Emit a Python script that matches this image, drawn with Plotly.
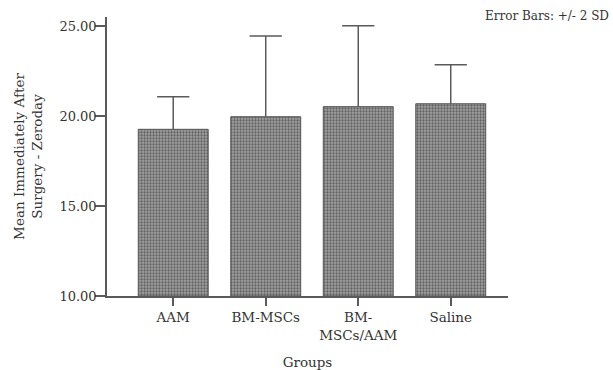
import plotly.graph_objects as go

categories = ["AAM", "BM-MSCs", "BM-<br>MSCs/AAM", "Saline"]
means = [19.26, 19.96, 20.52, 20.68]
err_plus = [1.81, 4.48, 4.50, 2.17]
y_ticks = [10, 15, 20, 25]
y_tick_labels = ["10.00", "15.00", "20.00", "25.00"]

FONT = "DejaVu Serif"
TXT = "#333333"
GREY = "#5a5a5a"

xs = list(range(len(categories)))
tops = [m + e for m, e in zip(means, err_plus)]

fig = go.Figure()
fig.add_trace(go.Bar(
    x=xs,
    y=[m - 10 for m in means],
    base=10,
    width=0.756,
    marker=dict(
        color="#8a8a8a",
        line=dict(color="#555555", width=1),
        pattern=dict(shape=".", fgcolor="#222222", bgcolor="#a0a0a0",
                     size=3, solidity=0.45, fillmode="overlay"),
    ),
    error_y=dict(type="data", array=err_plus, arrayminus=[0]*4, symmetric=False,
                 color=GREY, thickness=1.5, width=0),
    showlegend=False,
))
fig.add_trace(go.Scatter(
    x=xs, y=tops, mode="markers",
    marker=dict(symbol="line-ew", size=23, line=dict(color=GREY, width=1.5)),
    showlegend=False, hoverinfo="skip",
))

fig.update_layout(
    width=613, height=370,
    margin=dict(l=107, r=105, t=17, b=74, autoexpand=False),
    plot_bgcolor="white", paper_bgcolor="white",
    font=dict(family=FONT, size=13, color=TXT),
    xaxis=dict(
        range=[-0.716, 3.619], automargin=False,
        tickvals=xs, ticktext=categories,
        showline=True, linecolor=GREY, linewidth=1.5,
        ticks="outside", ticklen=8, tickcolor=GREY, tickwidth=1.5,
        showgrid=False, zeroline=False,
        tickfont=dict(family=FONT, size=13.5, color=TXT),
        title=dict(text="Groups", standoff=16, font=dict(family=FONT, size=13.5, color=TXT)),
    ),
    yaxis=dict(
        range=[10, 25.5], automargin=False,
        tickvals=y_ticks, ticktext=y_tick_labels,
        showline=True, linecolor=GREY, linewidth=1.5,
        ticks="outside", ticklen=10, tickcolor=GREY, tickwidth=1.5,
        ticklabelstandoff=-4,
        showgrid=False, zeroline=False,
        tickfont=dict(family=FONT, size=13, color=TXT),
        title=dict(text="Mean Immediately After<br>Surgery - Zeroday", standoff=14,
                   font=dict(family=FONT, size=13.5, color=TXT)),
    ),
    annotations=[dict(text="Error Bars: +/- 2 SD", xref="paper", yref="paper",
                      x=1.0, y=1.0, xanchor="right", yanchor="middle",
                      xshift=103, yshift=1, showarrow=False,
                      font=dict(family=FONT, size=12, color=TXT))],
)

fig.write_html("out.html", config={"displayModeBar": False},
               post_script="document.body.style.margin='0';document.body.style.overflow='hidden';")
